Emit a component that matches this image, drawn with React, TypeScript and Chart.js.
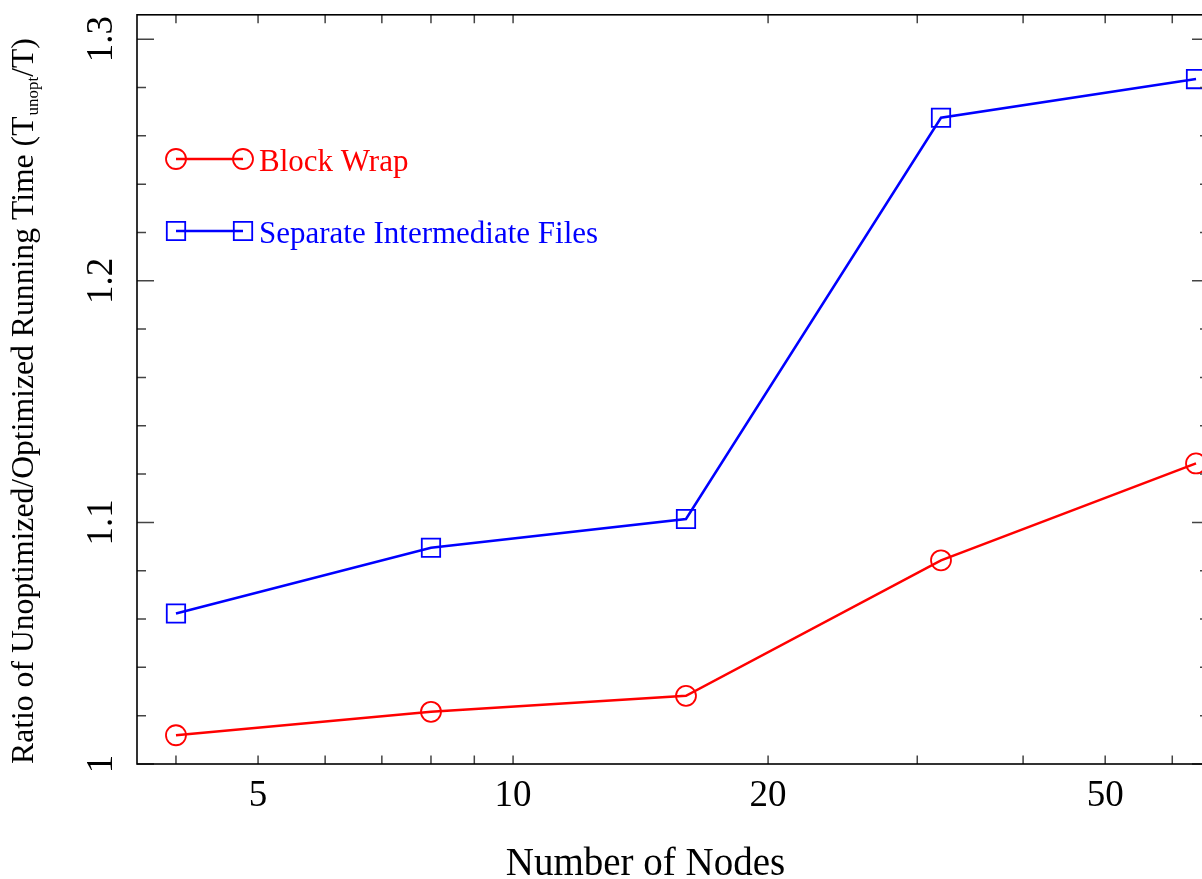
import React, { useEffect, useRef } from "react";
import { Chart, registerables } from "chart.js";

Chart.register(...registerables);

// ---- data ----
const nodes = [4, 8, 16, 32, 64];
const blockWrap = [1.0119, 1.0216, 1.0282, 1.0843, 1.1244];
const separateFiles = [1.0623, 1.0895, 1.1014, 1.2675, 1.2835];
const seriesLabels = ["Block Wrap", "Separate Intermediate Files"];
const seriesColors = ["#ff0000", "#0000ff"];
const xTickValues = [4, 5, 6, 7, 8, 9, 10, 20, 30, 40, 50, 60];
const xTickLabels = [5, 10, 20, 50];
const yTickLabels = ["1", "1.1", "1.2", "1.3"];
const xTitle = "Number of Nodes";
const yTitleMain = "Ratio of Unoptimized/Optimized Running Time (T";
const yTitleSub = "unopt";
const yTitleEnd = "/T)";

const SERIF = '"Liberation Serif", "Times New Roman", serif';
const CANVAS_W = 1230;
const CANVAS_H = 879;

function drawMarker(ctx: CanvasRenderingContext2D, style: string, x: number, y: number) {
  ctx.beginPath();
  if (style === "circle") {
    ctx.arc(x, y, 10, 0, Math.PI * 2);
  } else {
    ctx.rect(x - 9.2, y - 9.2, 18.4, 18.4);
  }
  ctx.stroke();
}

const gnuplotPlugin = {
  id: "gnuplotDecor",
  afterDraw(chart: any) {
    const ctx: CanvasRenderingContext2D = chart.ctx;
    const { left, right, top, bottom } = chart.chartArea;
    const xs = chart.scales.x;
    const ys = chart.scales.y;
    ctx.save();

    // ticks
    ctx.strokeStyle = "#444";
    ctx.lineWidth = 1.5;
    ctx.beginPath();
    for (let k = 0; k <= 15; k++) {
      const v = 1 + k * 0.02;
      const y = ys.getPixelForValue(v);
      const len = k % 5 === 0 ? 17 : 9;
      ctx.moveTo(left, y);
      ctx.lineTo(left + len, y);
      ctx.moveTo(right, y);
      ctx.lineTo(right - len, y);
    }
    for (const v of xTickValues) {
      const x = xs.getPixelForValue(v);
      ctx.moveTo(x, bottom);
      ctx.lineTo(x, bottom - 8.5);
      ctx.moveTo(x, top);
      ctx.lineTo(x, top + 8.5);
    }
    ctx.stroke();

    // frame
    ctx.strokeStyle = "#000";
    ctx.lineWidth = 1.6;
    ctx.strokeRect(left, top, right - left, bottom - top);

    // x tick labels
    ctx.fillStyle = "#000";
    ctx.font = `37px ${SERIF}`;
    ctx.textAlign = "center";
    ctx.textBaseline = "alphabetic";
    for (const v of xTickLabels) {
      ctx.fillText(String(v), xs.getPixelForValue(v), 806);
    }

    // y tick labels (rotated)
    for (const lbl of yTickLabels) {
      const y = ys.getPixelForValue(parseFloat(lbl));
      ctx.save();
      ctx.translate(112, y);
      ctx.rotate(-Math.PI / 2);
      ctx.textAlign = "center";
      ctx.fillText(lbl, 0, 0);
      ctx.restore();
    }

    // x title
    ctx.font = `39px ${SERIF}`;
    ctx.textAlign = "center";
    ctx.fillText(xTitle, 645.5, 875);

    // y title with subscript
    ctx.save();
    ctx.translate(33, 764);
    ctx.rotate(-Math.PI / 2);
    ctx.textAlign = "left";
    ctx.font = `31.7px ${SERIF}`;
    ctx.fillText(yTitleMain, 0, 0);
    const w1 = ctx.measureText(yTitleMain).width;
    ctx.font = `17px ${SERIF}`;
    ctx.fillText(yTitleSub, w1 + 1, 5);
    const w2 = ctx.measureText(yTitleSub).width;
    ctx.font = `31.7px ${SERIF}`;
    ctx.fillText(yTitleEnd, w1 + w2 + 1, 0);
    ctx.restore();

    // legend
    const legendY = [159, 231];
    const styles = ["circle", "rect"];
    for (let i = 0; i < seriesLabels.length; i++) {
      const y = legendY[i];
      ctx.strokeStyle = seriesColors[i];
      ctx.lineWidth = 2.5;
      ctx.beginPath();
      ctx.moveTo(176, y);
      ctx.lineTo(243, y);
      ctx.stroke();
      ctx.lineWidth = 1.8;
      drawMarker(ctx, styles[i], 176, y);
      drawMarker(ctx, styles[i], 243, y);
      ctx.fillStyle = seriesColors[i];
      ctx.font = `31px ${SERIF}`;
      ctx.textAlign = "left";
      ctx.fillText(seriesLabels[i], 259, y + 11.5);
    }

    ctx.restore();
  },
};

export default function App() {
  const canvasRef = useRef<HTMLCanvasElement | null>(null);

  useEffect(() => {
    if (!canvasRef.current) return;
    const chart = new Chart(canvasRef.current, {
      type: "line",
      data: {
        datasets: [
          {
            label: seriesLabels[0],
            data: nodes.map((x, i) => ({ x, y: blockWrap[i] })),
            borderColor: seriesColors[0],
            borderWidth: 2.5,
            pointStyle: "circle",
            pointRadius: 10,
            pointBorderWidth: 1.8,
            pointBorderColor: seriesColors[0],
            pointBackgroundColor: "rgba(0,0,0,0)",
            fill: false,
            tension: 0,
            clip: false,
          },
          {
            label: seriesLabels[1],
            data: nodes.map((x, i) => ({ x, y: separateFiles[i] })),
            borderColor: seriesColors[1],
            borderWidth: 2.5,
            pointStyle: "rect",
            pointRadius: 13,
            pointBorderWidth: 1.8,
            pointBorderColor: seriesColors[1],
            pointBackgroundColor: "rgba(0,0,0,0)",
            fill: false,
            tension: 0,
            clip: false,
          },
        ],
      },
      options: {
        animation: false,
        responsive: false,
        devicePixelRatio: 1,
        layout: {
          padding: { left: 137, top: 13, right: CANVAS_W - 1209, bottom: CANVAS_H - 764 },
        },
        scales: {
          x: { type: "logarithmic", min: 3.598, max: 66.3, display: false },
          y: { type: "linear", min: 1, max: 1.3101, display: false },
        },
        plugins: {
          legend: { display: false },
          tooltip: { enabled: false },
        },
        events: [],
      },
      plugins: [gnuplotPlugin],
    });
    return () => chart.destroy();
  }, []);

  return (
    <div
      style={{
        position: "fixed",
        left: 0,
        top: 0,
        width: "100vw",
        height: "100vh",
        overflow: "hidden",
        background: "#fff",
      }}
    >
      <canvas
        ref={canvasRef}
        width={CANVAS_W}
        height={CANVAS_H}
        style={{ display: "block", width: CANVAS_W + "px", height: CANVAS_H + "px" }}
      />
    </div>
  );
}
